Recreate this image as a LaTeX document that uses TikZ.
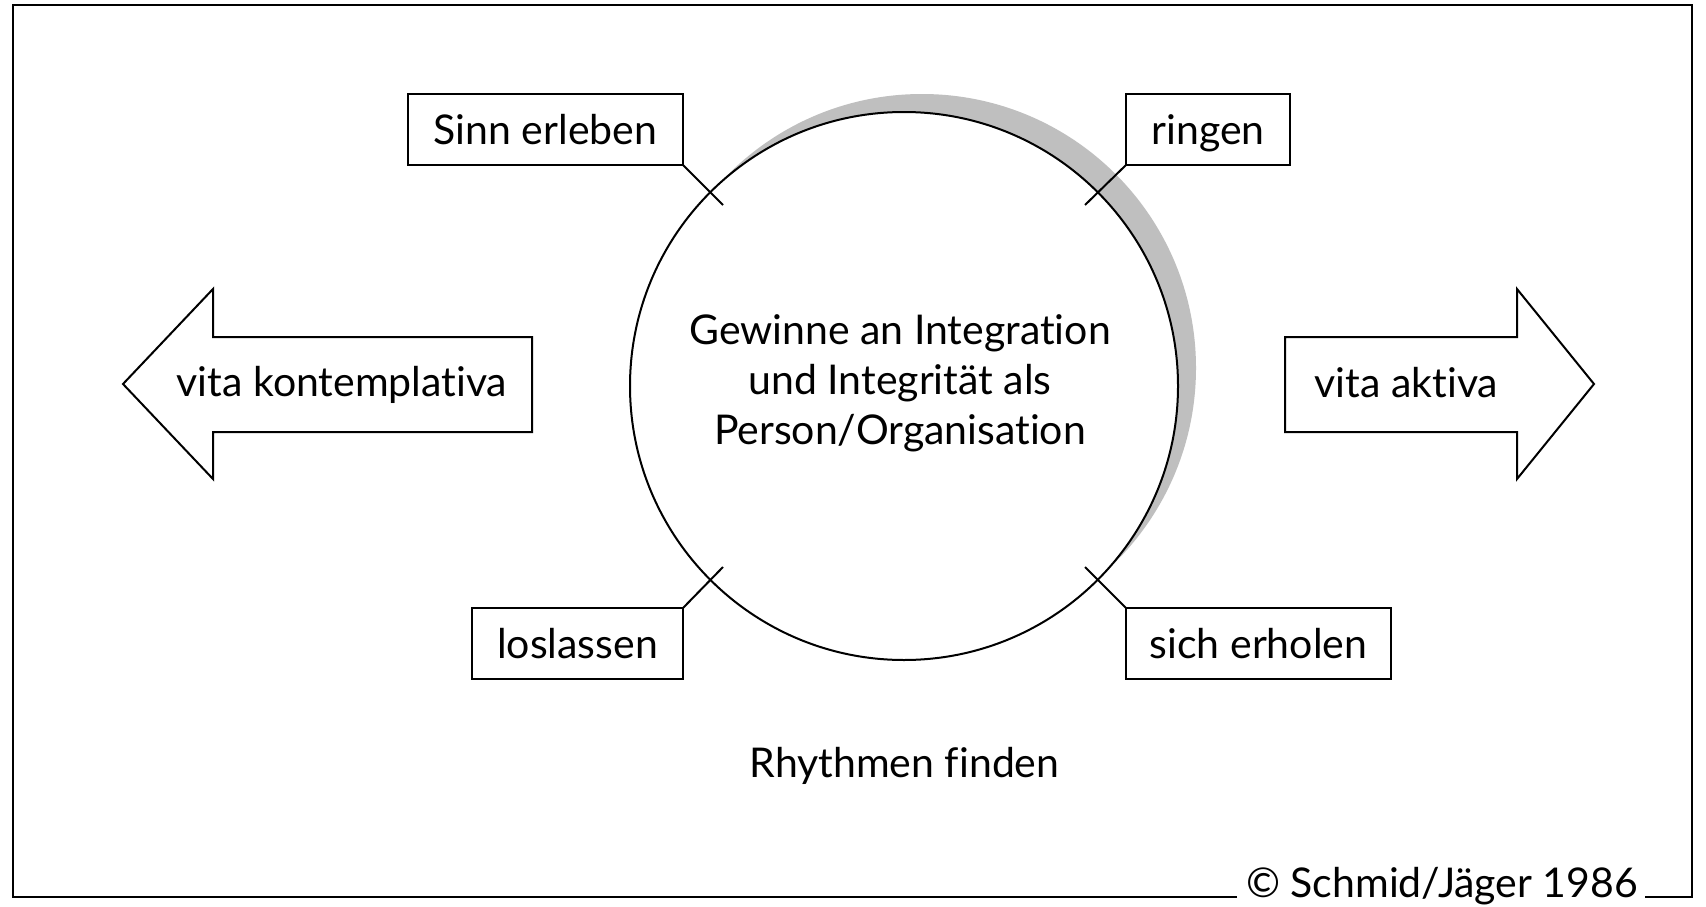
\documentclass[tikz,border=0pt]{standalone}
\usepackage{fontspec}
\setmainfont{Lato}[Ligatures=NoCommon]
\begin{document}
\begin{tikzpicture}[x=1pt,y=-1pt,
  every node/.style={font=\fontsize{41}{50}\selectfont, inner sep=0pt, outer sep=0pt},
  lbox/.style={draw, line width=2pt, minimum height=71pt, text height=29.4pt, text depth=0pt},
  shape line/.style={draw, line width=2pt, line join=miter},
  tick/.style={line width=2pt}]
\useasboundingbox (0,0) rectangle (1706,907);
\fill[white] (0,0) rectangle (1706,907);
% frame
\node[anchor=base] (copy) at (1442,897) {© Schmid/Jäger 1986};
\draw[line width=2pt] (1237,897) -- (13,897) -- (13,5) -- (1692,5) -- (1692,897) -- (1645,897);
% shadow crescent and circle
\fill[gray!50] (922,368) circle (274pt);
\node[circle, draw, fill=white, line width=2pt, minimum size=548pt] (circ) at (904,386) {};
\node[align=center] (ctext) at (900,383) {Gewinne an Integration\\und Integrität als\\Person/Organisation};
% label boxes
\node[lbox, minimum width=275pt] (sb) at (545.5,129.5) {Sinn erleben};
\node[lbox, minimum width=164pt] (rg) at (1208,129.5) {ringen};
\node[lbox, minimum width=211pt] (ll) at (577.5,643.5) {loslassen};
\node[lbox, minimum width=265pt] (se) at (1258.5,643.5) {sich erholen};
\coordinate (t1) at (723,205);
\coordinate (t2) at (1085,205);
\coordinate (t3) at (723,567);
\coordinate (t4) at (1085,567);
\draw[tick] (sb.south east) -- (t1);
\draw[tick] (rg.south west) -- (t2);
\draw[tick] (ll.north east) -- (t3);
\draw[tick] (se.north west) -- (t4);
% arrows
\draw[shape line] (123,384) -- (213,289) -- (213,337) -- (532,337) -- (532,432) -- (213,432) -- (213,479) -- cycle;
\draw[shape line] (1594,384) -- (1517,289) -- (1517,337) -- (1285,337) -- (1285,432) -- (1517,432) -- (1517,479) -- cycle;
\node[anchor=base] (vk) at (342,396) {vita kontemplativa};
\node[anchor=base] (va) at (1406.5,397) {vita aktiva};
% bottom caption
\node[anchor=base] (rf) at (904.5,777) {Rhythmen finden};
\end{tikzpicture}
\end{document}
